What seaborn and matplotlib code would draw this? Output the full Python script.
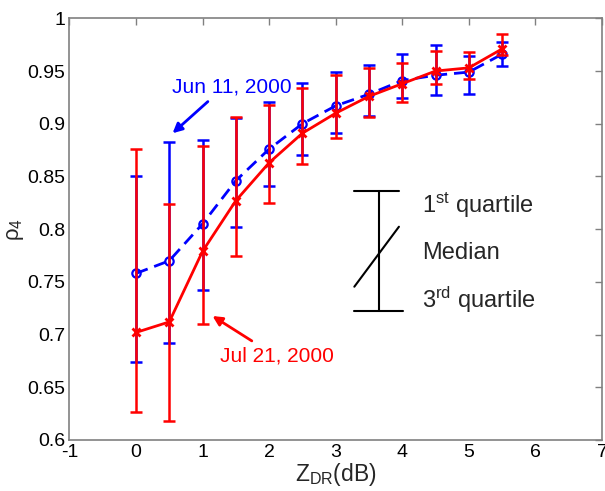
import matplotlib
matplotlib.use("Agg")
import matplotlib.pyplot as plt
import seaborn as sns
import numpy as np

# Differential reflectivity bins (dB)
zdr = [0, 0.5, 1, 1.5, 2, 2.5, 3, 3.5, 4, 4.5, 5, 5.5]

# Jun 11, 2000: median, upper and lower quartiles of rho_4
jun_med = [0.758, 0.770, 0.805, 0.846, 0.876, 0.900, 0.917, 0.928, 0.941, 0.946, 0.949, 0.966]
jun_up = [0.850, 0.883, 0.885, 0.905, 0.921, 0.939, 0.949, 0.956, 0.966, 0.975, 0.964, 0.978]
jun_lo = [0.674, 0.692, 0.742, 0.802, 0.841, 0.870, 0.891, 0.907, 0.924, 0.927, 0.928, 0.955]

# Jul 21, 2000: median, upper and lower quartiles of rho_4
jul_med = [0.702, 0.712, 0.779, 0.827, 0.863, 0.891, 0.910, 0.926, 0.938, 0.950, 0.953, 0.971]
jul_up = [0.876, 0.824, 0.879, 0.906, 0.918, 0.934, 0.946, 0.953, 0.958, 0.969, 0.968, 0.985]
jul_lo = [0.627, 0.618, 0.710, 0.775, 0.825, 0.862, 0.886, 0.906, 0.921, 0.938, 0.942, 0.965]

x_ticks = [-1, 0, 1, 2, 3, 4, 5, 6, 7]
y_ticks = [0.6, 0.65, 0.7, 0.75, 0.8, 0.85, 0.9, 0.95, 1.0]
y_ticklabels = ["0.6", "0.65", "0.7", "0.75", "0.8", "0.85", "0.9", "0.95", "1"]

sns.set_style("white")
plt.rcParams["font.family"] = ["Liberation Sans", "DejaVu Sans"]
plt.rcParams["mathtext.fontset"] = "custom"
plt.rcParams["mathtext.rm"] = "Liberation Sans"
plt.rcParams["mathtext.it"] = "Liberation Sans:italic"

fig = plt.figure(figsize=(6.05, 4.91), dpi=100)
ax = fig.add_axes([0.1147, 0.1039, 0.8803, 0.8588])

blue = "#0000ff"
red = "#ff0000"

# Quartile bars
jm, ju, jl = map(np.array, (jun_med, jun_up, jun_lo))
ax.errorbar(zdr, jm, yerr=[jm - jl, ju - jm], fmt="none", ecolor=blue,
            elinewidth=1.8, capsize=4.5, capthick=1.8, zorder=2)
rm, ru, rl = map(np.array, (jul_med, jul_up, jul_lo))
ax.errorbar(zdr, rm, yerr=[rm - rl, ru - rm], fmt="none", ecolor=red,
            elinewidth=1.8, capsize=4.5, capthick=1.8, zorder=4)

# Median curves
sns.lineplot(x=zdr, y=jun_med, ax=ax, color=blue, linestyle=(0, (4.5, 2.5)),
             linewidth=2, marker="o", markersize=6, markerfacecolor="none",
             markeredgecolor=blue, markeredgewidth=1.6, zorder=3)
sns.lineplot(x=zdr, y=jul_med, ax=ax, color=red, linestyle="-",
             linewidth=2, marker="x", markersize=6,
             markeredgecolor=red, markeredgewidth=2, zorder=5)

ax.set_xlim(-1, 7)
ax.set_ylim(0.6, 1.0)
ax.set_xticks(x_ticks)
ax.set_xticklabels([str(t) for t in x_ticks])
ax.set_yticks(y_ticks)
ax.set_yticklabels(y_ticklabels)
ax.tick_params(direction="in", length=5, width=1, color="#808080",
               labelsize=14, labelcolor="black", top=True, right=True,
               pad=3)
for sp in ax.spines.values():
    sp.set_color("#808080")
    sp.set_linewidth(1.2)
    sp.set_visible(True)

ax.set_xlabel(r"Z$_{\rm DR}$(dB)", fontsize=16.5, labelpad=0)
ax.set_ylabel("ρ$_4$", fontsize=16, labelpad=1)

# Date annotations
ax.text(0.54, 0.935, "Jun 11, 2000", color=blue, fontsize=15, va="center", ha="left")
ax.annotate("", xy=(0.55, 0.891), xytext=(1.08, 0.921),
            arrowprops=dict(arrowstyle="-|>", color=blue, lw=2, mutation_scale=14,
                            shrinkA=0, shrinkB=0))
ax.text(1.26, 0.680, "Jul 21, 2000", color=red, fontsize=15, va="center", ha="left")
ax.annotate("", xy=(1.15, 0.7176), xytext=(1.74, 0.694),
            arrowprops=dict(arrowstyle="-|>", color=red, lw=2, mutation_scale=14,
                            shrinkA=0, shrinkB=0))

# Key explaining the quartile bars
kx0, kxm, kx1 = 3.28, 3.65, 3.98
ax.plot([kx0, kx1 - 0.03], [0.8364, 0.8364], color="black", lw=1.5)
ax.plot([kx0, kx1 + 0.03], [0.7226, 0.7226], color="black", lw=1.5)
ax.plot([kxm, kxm], [0.7226, 0.8364], color="black", lw=1.5)
ax.plot([kx0, kx1 - 0.03], [0.7454, 0.8023], color="black", lw=1.5)
ax.text(4.3, 0.8229, r"1$^{\rm st}$ quartile", fontsize=17, va="center", ha="left")
ax.text(4.3, 0.7773, "Median", fontsize=17, va="center", ha="left")
ax.text(4.3, 0.7328, r"3$^{\rm rd}$ quartile", fontsize=17, va="center", ha="left")

fig.savefig("out.png", dpi=100, facecolor="white")
